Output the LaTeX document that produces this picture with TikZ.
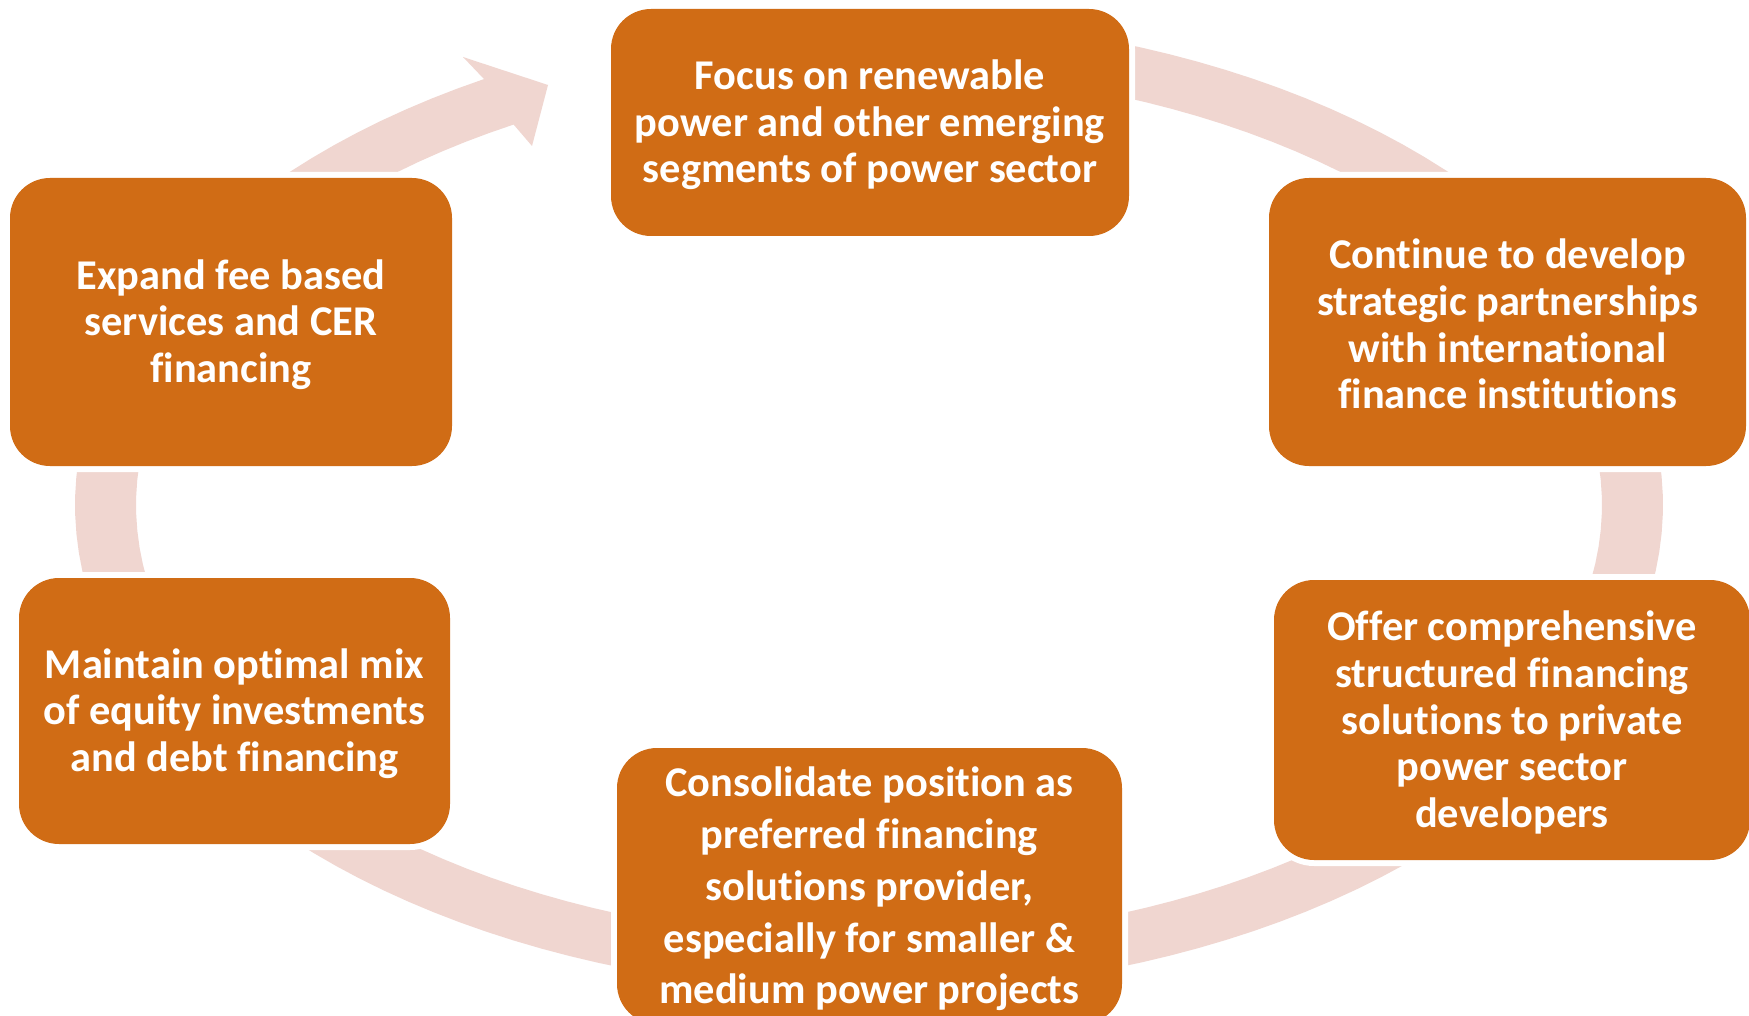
\documentclass[tikz,border=0pt]{standalone}
\usepackage{fontspec}
\setmainfont[Ligatures=NoCommon]{Carlito}
\definecolor{boxc}{RGB}{208,108,21}
\definecolor{ringc}{RGB}{240,214,208}
\begin{document}
\begin{tikzpicture}[x=1pt,y=-1pt,
  stagebox/.style={rectangle, rounded corners=40pt, fill=boxc, inner sep=0pt, outer sep=0pt,
    preaction={draw=white, line width=12pt}},
  stagetext/.style={text=white, align=center, inner sep=0pt,
    font=\fontsize{42.4}{46.6}\selectfont\bfseries},
  widetext/.style={stagetext, font=\fontsize{42.4}{51.8}\selectfont\bfseries}]
\useasboundingbox (0,0) rectangle (1749,1016);
\fill[white] (0,0) rectangle (1749,1016);
% cycle ring with arrow head
\fill[ringc] plot[domain=-90:241,samples=150] ({869+794*cos(\x)},{505+487*sin(\x)})
  -- (463,57) -- (548,85) -- (532,146)
  -- plot[domain=241:-90,samples=150] ({869+733*cos(\x)},{505+435*sin(\x)}) -- cycle;
% stages
\node[stagebox, minimum width=518pt, minimum height=227pt] (top) at (870,122.5) {};
\node[stagebox, minimum width=477pt, minimum height=288pt] (rt) at (1507.5,322) {};
\node[stagebox, minimum width=476pt, minimum height=280pt] (rb) at (1512,720) {};
\node[stagebox, minimum width=505pt, minimum height=276pt] (bot) at (869.5,886) {};
\node[stagebox, minimum width=431pt, minimum height=266pt] (lb) at (234.5,711) {};
\node[stagebox, minimum width=442pt, minimum height=288pt] (lt) at (231,322) {};
% labels
\node[stagetext] (toptxt) at ([yshift=-2.5pt]top.center)
  {Focus on renewable\\power and other emerging\\segments of power sector};
\node[stagetext] (rttxt) at ([yshift=-2pt]rt.center)
  {Continue to develop\\strategic partnerships\\with international\\finance institutions};
\node[stagetext] (rbtxt) at ([yshift=-2.5pt]rb.center)
  {Offer comprehensive\\structured financing\\solutions to private\\power sector\\developers};
\node[widetext] (bottxt) at ([yshift=-3pt]bot.center)
  {Consolidate position as\\preferred financing\\solutions provider,\\especially for smaller \&\\medium power projects};
\node[stagetext] (lbtxt) at ([yshift=-2.5pt]lb.center)
  {Maintain optimal mix\\of equity investments\\and debt financing};
\node[stagetext] (lttxt) at ([yshift=-2.5pt]lt.center)
  {Expand fee based\\services and CER\\financing};
\end{tikzpicture}
\end{document}
